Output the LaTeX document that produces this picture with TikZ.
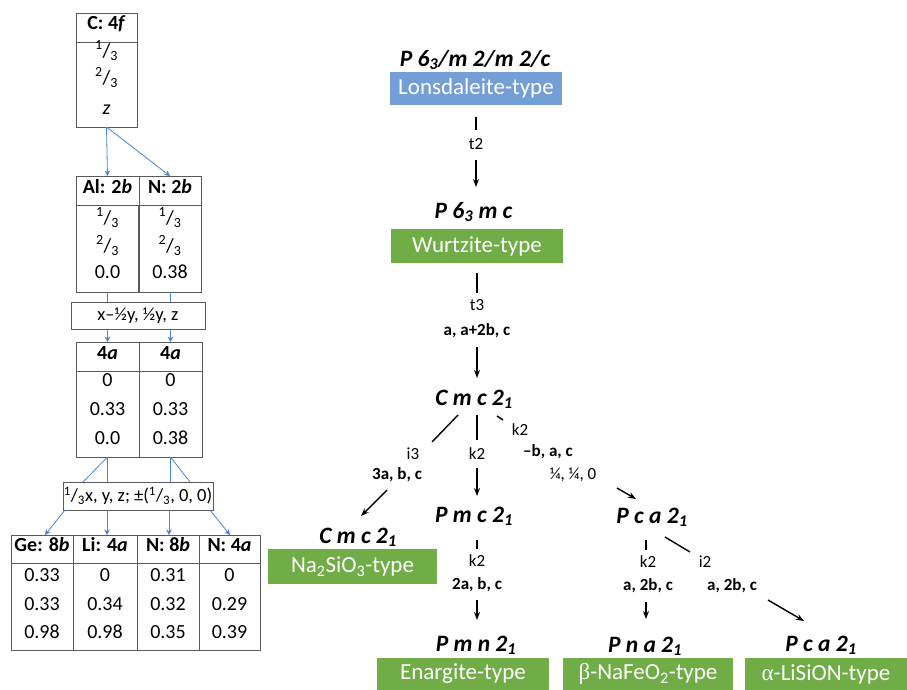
\documentclass[tikz,border=0pt]{standalone}
\usepackage{fontspec}
\setmainfont{Carlito}
\newfontfamily\grk{Liberation Serif}
\usetikzlibrary{arrows.meta}
\definecolor{boxgreen}{HTML}{70AD47}
\definecolor{boxblue}{HTML}{739FD6}
\definecolor{arrblue}{HTML}{4A86CF}
\definecolor{tblgray}{HTML}{5A5A5A}
\tikzset{
  sg/.style={font=\fontsize{23.5}{27}\selectfont\bfseries\itshape, inner sep=0pt, anchor=base},
  typebox/.style={fill=#1, text=white, font=\fontsize{23}{27}\selectfont, inner sep=0pt, outer sep=0pt},
  lab/.style={font=\fontsize{17}{20}\selectfont, inner sep=0pt, text height=0.68em, text depth=0.2em},
  blab/.style={font=\fontsize{17}{20}\selectfont\bfseries, inner sep=0pt, text height=0.68em, text depth=0.2em},
  conn/.style={line width=1.4pt, black},
  arr/.style={conn, -{Stealth[length=8pt,width=6pt]}},
  frame/.style={draw=tblgray, line width=1pt, inner sep=0pt, outer sep=0pt},
  cell/.style={font=\fontsize{20}{23}\selectfont, inner sep=0pt, text height=0.68em, text depth=0.2em},
  hcell/.style={cell, font=\fontsize{20}{23}\selectfont\bfseries},
  tbox/.style={frame, font=\fontsize{18.5}{21}\selectfont},
  barr/.style={draw=arrblue, line width=0.8pt, -{Stealth[length=5.5pt,width=5.5pt]}},
  bline/.style={draw=arrblue, line width=0.8pt},
}
\newcommand{\third}[1]{\textsuperscript{#1}/\textsubscript{3}}
\begin{document}
\begin{tikzpicture}[x=1pt,y=-1pt]
\useasboundingbox (0,0) rectangle (907,689);

%% ---------- left: C 4f ----------
\node[frame, minimum width=61, minimum height=29] (cH) at (106.5,27.5) {};
\node[frame, minimum width=61, minimum height=85] (cB) at (106.5,84.5) {};
\node[hcell] (cHt) at (106.5,27) {C: 4\textit{f}};
\node[cell] (c1) at (106.5,55) {\third{1}};
\node[cell] (c2) at (106.5,82) {\third{2}};
\node[cell] (c3) at (106.5,112) {\textit{z}};

%% ---------- Al / N 2b ----------
\node[frame, minimum width=63, minimum height=29] (alH) at (107.5,190.5) {};
\node[frame, minimum width=62, minimum height=87] (alB) at (107.5,248.5) {};
\node[frame, minimum width=62, minimum height=29] (nH) at (170,190.5) {};
\node[frame, minimum width=62, minimum height=87] (nB) at (170,248.5) {};
\node[hcell] at (107.5,191) {Al: 2\textit{b}};
\node[hcell] at (170,191) {N: 2\textit{b}};
\node[cell] at (107.5,222) {\third{1}};
\node[cell] at (107.5,250) {\third{2}};
\node[cell] at (107.5,276) {0.0};
\node[cell] at (170,222) {\third{1}};
\node[cell] at (170,250) {\third{2}};
\node[cell] at (170,276) {0.38};

\draw[barr] (cB.south) -- (alH.north);
\draw[barr] (cB.south) -- (nH.north);

%% ---------- transformation box 1 ----------
\node[tbox, minimum width=134, minimum height=27] (tb1) at (138,315.5) {x–½y, ½y, z};
\draw[bline] (alB.south) -- (alB.south |- tb1.north);
\draw[bline] (nB.south) -- (nB.south |- tb1.north);

%% ---------- 4a / 4a ----------
\node[frame, minimum width=63, minimum height=29] (aH) at (107.5,356.5) {};
\node[frame, minimum width=63, minimum height=86] (aB) at (107.5,414) {};
\node[frame, minimum width=63, minimum height=29] (bH) at (170.5,356.5) {};
\node[frame, minimum width=63, minimum height=86] (bB) at (170.5,414) {};
\node[hcell] at (107.5,357) {4\textit{a}};
\node[hcell] at (170.5,357) {4\textit{a}};
\node[cell] at (107.5,384) {0};
\node[cell] at (107.5,413) {0.33};
\node[cell] at (107.5,442) {0.0};
\node[cell] at (170.5,384) {0};
\node[cell] at (170.5,413) {0.33};
\node[cell] at (170.5,442) {0.38};
\draw[barr] (tb1.south -| aH.north) -- (aH.north);
\draw[barr] (tb1.south -| bH.north) -- (bH.north);

%% ---------- transformation box 2 ----------
\node[tbox, minimum width=150, minimum height=28] (tb2) at (138,496) {\third{1}x, y, z; ±(\third{1}, 0, 0)};
\coordinate (d1) at (83,482);
\coordinate (d2) at (190,482);
\draw[bline] (aB.south) -- (d1);
\draw[bline] (aB.south) -- (aB.south |- tb2.north);
\draw[bline] (bB.south) -- (bB.south |- tb2.north);
\draw[bline] (bB.south) -- (d2);

%% ---------- bottom table ----------
\node[frame, minimum width=62, minimum height=28] (geH) at (42,549) {};
\node[frame, minimum width=62, minimum height=87] (geB) at (42,606.5) {};
\node[frame, minimum width=64, minimum height=28] (liH) at (105,549) {};
\node[frame, minimum width=64, minimum height=87] (liB) at (105,606.5) {};
\node[frame, minimum width=62, minimum height=28] (n8H) at (168,549) {};
\node[frame, minimum width=62, minimum height=87] (n8B) at (168,606.5) {};
\node[frame, minimum width=61, minimum height=28] (n4H) at (229.5,549) {};
\node[frame, minimum width=61, minimum height=87] (n4B) at (229.5,606.5) {};
\node[hcell] at (42,549) {Ge: 8\textit{b}};
\node[hcell] at (105,549) {Li: 4\textit{a}};
\node[hcell] at (168,549) {N: 8\textit{b}};
\node[hcell] at (229.5,549) {N: 4\textit{a}};
\node[cell] at (42,579) {0.33};
\node[cell] at (42,608) {0.33};
\node[cell] at (42,636) {0.98};
\node[cell] at (105,579) {0};
\node[cell] at (105,608) {0.34};
\node[cell] at (105,636) {0.98};
\node[cell] at (168,579) {0.31};
\node[cell] at (168,608) {0.32};
\node[cell] at (168,636) {0.35};
\node[cell] at (229.5,579) {0};
\node[cell] at (229.5,608) {0.29};
\node[cell] at (229.5,636) {0.39};
\coordinate (e1) at (65,510);
\coordinate (e2) at (107,510);
\coordinate (e3) at (169,510);
\coordinate (e4) at (210,510);
\draw[barr] (e1) -- (45,535);
\draw[barr] (e2) -- (e2 |- liH.north);
\draw[barr] (e3) -- (e3 |- n8H.north);
\draw[barr] (e4) -- (230,535);

%% ---------- right: group-subgroup tree ----------
\node[sg] (sg1) at (475,66) {P 6\textsubscript{3}/m 2/m 2/c};
\node[typebox=boxblue, minimum width=172, minimum height=33] (lons) at (476,88.5) {Lonsdaleite-type};

\coordinate (a1) at (476,117); \coordinate (a2) at (476,130);
\coordinate (a3) at (476,160); \coordinate (a4) at (476,187);
\draw[conn] (a1) -- (a2);
\node[lab] (lt2) at (476,147) {t2};
\draw[arr] (a3) -- (a4);

\node[sg] (sg2) at (473.5,218) {P 6\textsubscript{3} m c};
\node[typebox=boxgreen, minimum width=172, minimum height=34] (wurtz) at (477,246) {Wurtzite-type};

\coordinate (b1) at (477,273); \coordinate (b2) at (477,293);
\coordinate (b3) at (477,347); \coordinate (b4) at (477,378);
\draw[conn] (b1) -- (b2);
\node[lab] (lt3) at (477,308) {t3};
\node[blab] (lt3b) at (477,333) {a, a+2b, c};
\draw[arr] (b3) -- (b4);

\node[sg] (sg3) at (474,405) {C m c 2\textsubscript{1}};

% left branch
\coordinate (c1a) at (458,415); \coordinate (c1b) at (432,442);
\coordinate (c1c) at (387,490); \coordinate (c1d) at (361,516);
\draw[conn] (c1a) -- (c1b);
\node[lab] (li3) at (413,457) {i3};
\node[blab] (li3b) at (397,477) {3a, b, c};
\draw[arr] (c1c) -- (c1d);

% middle branch
\coordinate (c2a) at (477,415); \coordinate (c2b) at (477,440);
\coordinate (c2c) at (477,468); \coordinate (c2d) at (477,496);
\draw[conn] (c2a) -- (c2b);
\node[lab] (lk2a) at (477,457) {k2};
\draw[arr] (c2c) -- (c2d);

% right branch
\coordinate (c3a) at (497,416); \coordinate (c3b) at (503,420);
\coordinate (c3c) at (617,488); \coordinate (c3d) at (636,499);
\draw[conn] (c3a) -- (c3b);
\node[lab] (lk2b) at (520,433) {k2};
\node[blab] (lk2bb) at (548,454) {–b, a, c};
\node[lab] (lk2bc) at (573,477) {¼, ¼, 0};
\draw[arr] (c3c) -- (c3d);

% Cmc21 (Na2SiO3)
\node[sg] (sg4) at (358,543) {C m c 2\textsubscript{1}};
\node[typebox=boxgreen, minimum width=169, minimum height=35] (na) at (352.5,566.5) {Na\textsubscript{2}SiO\textsubscript{3}-type};

% Pmc21 -> Pmn21
\node[sg] (sg5) at (474,522) {P m c 2\textsubscript{1}};
\coordinate (d1a) at (477,540); \coordinate (d1b) at (477,549);
\coordinate (d1c) at (477,600); \coordinate (d1d) at (477,620);
\draw[conn] (d1a) -- (d1b);
\node[lab] (lk2c) at (477,564) {k2};
\node[blab] (lk2cb) at (477,587) {2a, b, c};
\draw[arr] (d1c) -- (d1d);

\node[sg] (sg6) at (476,651) {P m n 2\textsubscript{1}};
\node[typebox=boxgreen, minimum width=172, minimum height=32] (enarg) at (463,674) {Enargite-type};

% Pca21 branches
\node[sg] (sg7) at (652,523) {P c a 2\textsubscript{1}};
\coordinate (f1a) at (646,540); \coordinate (f1b) at (646,550);
\coordinate (f1c) at (646,602); \coordinate (f1d) at (646,619);
\draw[conn] (f1a) -- (f1b);
\node[lab] (lk2d) at (648,565) {k2};
\node[blab] (lk2db) at (648,588) {a, 2b, c};
\draw[arr] (f1c) -- (f1d);

\coordinate (g1a) at (665,537); \coordinate (g1b) at (690,552);
\coordinate (g1c) at (768,600); \coordinate (g1d) at (804,621);
\draw[conn] (g1a) -- (g1b);
\node[lab] (li2) at (705,565) {i2};
\node[blab] (li2b) at (732,588) {a, 2b, c};
\draw[arr] (g1c) -- (g1d);

\node[sg] (sg8) at (645,652) {P n a 2\textsubscript{1}};
\node[typebox=boxgreen, minimum width=170, minimum height=32] (nafeo) at (648,674) {{\grk β}-NaFeO\textsubscript{2}-type};

\node[sg] (sg9) at (821,651) {P c a 2\textsubscript{1}};
\node[typebox=boxgreen, minimum width=162, minimum height=32] (lision) at (826,674) {{\grk α}-LiSiON-type};
\end{tikzpicture}
\end{document}
